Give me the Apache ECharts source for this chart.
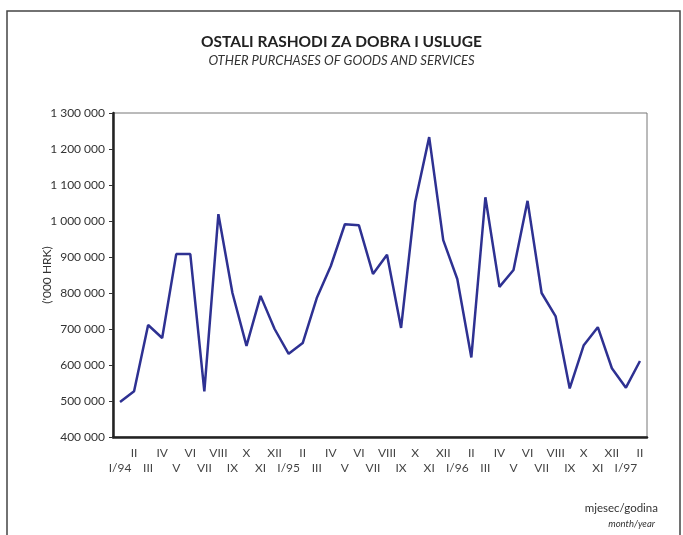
<!DOCTYPE html>
<html>
<head>
<meta charset="utf-8">
<script src="https://cdn.jsdelivr.net/npm/echarts@6/dist/echarts.min.js"></script>
<style>
  html, body { margin: 0; padding: 0; background: #fff; }
  #chart { width: 683px; height: 535px; }
</style>
</head>
<body>
<div id="chart"></div>
<script>
// mjeseci I/94 - II/97
const months = [
  'I/94', 'II', 'III', 'IV', 'V', 'VI', 'VII', 'VIII', 'IX', 'X', 'XI', 'XII',
  'I/95', 'II', 'III', 'IV', 'V', 'VI', 'VII', 'VIII', 'IX', 'X', 'XI', 'XII',
  'I/96', 'II', 'III', 'IV', 'V', 'VI', 'VII', 'VIII', 'IX', 'X', 'XI', 'XII',
  'I/97', 'II'
]

// ostali rashodi ('000 HRK)
const expenses = [
  497000, 527000, 711000, 675000, 908000, 908000, 527000, 1019000, 800000, 653000, 792000, 700000,
  631000, 661000, 786000, 875000, 991000, 988000, 853000, 906000, 703000, 1052000, 1233000, 947000,
  839000, 621000, 1066000, 817000, 864000, 1056000, 800000, 735000, 535000, 655000, 705000, 591000,
  537000, 611000
]

const yTicks = { min: 400000, max: 1300000, interval: 100000 }

const fontFamily = 'Lato, "Open Sans", sans-serif'

const chart = echarts.init(document.getElementById('chart'))

const option = {
  animation: false,
  textStyle: { fontFamily },
  title: [
    {
      text: 'OSTALI RASHODI ZA DOBRA I USLUGE',
      left: 'center',
      top: 29,
      textStyle: { fontSize: 15.5, fontWeight: 'bold', color: '#222', fontFamily }
    },
    {
      text: 'OTHER PURCHASES OF GOODS AND SERVICES',
      left: 'center',
      top: 49,
      textStyle: { fontSize: 13, fontWeight: 'normal', fontStyle: 'italic', color: '#333', fontFamily }
    }
  ],
  grid: {
    left: 113,
    right: 36,
    top: 113,
    bottom: 98,
    show: true,
    borderColor: '#777',
    borderWidth: 1
  },
  xAxis: {
    type: 'category',
    data: months,
    boundaryGap: true,
    axisLine: { lineStyle: { color: '#222', width: 2.5 } },
    axisTick: { show: false },
    axisLabel: {
      interval: 0,
      margin: 9,
      color: '#444',
      fontSize: 12,
      lineHeight: 15,
      verticalAlign: 'top',
      formatter: (v, i) => (i % 2 === 0 ? '\n' + v : v)
    }
  },
  yAxis: {
    type: 'value',
    min: yTicks.min,
    max: yTicks.max,
    interval: yTicks.interval,
    axisLine: { show: true, lineStyle: { color: '#222', width: 2.5 } },
    axisTick: { show: true, length: 4, lineStyle: { color: '#333' } },
    splitLine: { show: false },
    axisLabel: {
      margin: 8,
      color: '#333',
      fontSize: 12,
      formatter: v => String(v).replace(/\B(?=(\d{3})+(?!\d))/g, ' ')
    }
  },
  graphic: [
    // vanjski okvir
    {
      type: 'polyline',
      shape: { points: [[7, 545], [7, 11], [680, 11], [680, 545]] },
      style: { stroke: '#444', lineWidth: 1.5, fill: null }
    },
    // naziv y osi
    {
      type: 'text',
      x: 47,
      y: 275,
      rotation: Math.PI / 2,
      style: { text: "('000 HRK)", fontSize: 12, fill: '#333', fontFamily, align: 'center', verticalAlign: 'middle' }
    },
    {
      type: 'text',
      right: 25,
      top: 502,
      style: { text: 'mjesec/godina', fontSize: 11.5, fill: '#333', fontFamily }
    },
    {
      type: 'text',
      right: 28,
      top: 519,
      style: { text: 'month/year', fontSize: 9.5, fontStyle: 'italic', fill: '#333', fontFamily }
    }
  ],
  series: [
    {
      type: 'line',
      data: expenses,
      symbol: 'none',
      lineStyle: { color: '#2e3192', width: 2.5 }
    }
  ]
}

chart.setOption(option)
</script>
</body>
</html>
